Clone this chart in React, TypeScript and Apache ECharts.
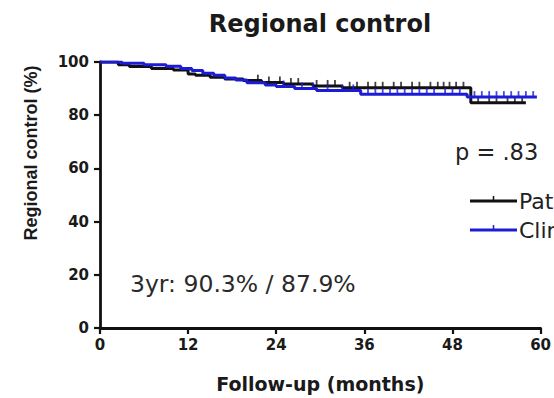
import { useEffect, useRef } from "react";
import * as echarts from "echarts";

// Kaplan-Meier steps: time (months) and percent free of regional recurrence
const pathTimes = [0, 2.5, 4, 7, 10, 12, 13, 15, 17, 19.5, 22, 25, 29, 33, 50.5, 58];
const pathSurv = [100, 99.0, 98.3, 97.6, 97.0, 95.5, 95.0, 94.3, 93.6, 93.0, 92.3, 91.7, 91.0, 90.3, 84.7, 84.7];

const clinTimes = [0, 3, 6, 9, 11, 12.5, 14, 15.5, 17, 18.5, 20, 22.5, 24, 26.5, 29.5, 35.5, 50, 59.5];
const clinSurv = [100, 99.5, 99.0, 98.4, 97.6, 96.8, 95.8, 95.0, 94.0, 93.2, 92.2, 91.4, 90.8, 90.0, 89.3, 87.9, 86.8, 86.8];

// Censored observations (months)
const pathCensor = [21.5, 23, 24.5, 26, 27, 29.5, 31, 32, 34, 35, 36.5, 37.5, 38.5, 40, 41, 42.5, 43.5, 45, 46, 46.8, 47.6, 48.5, 49.5, 51.5, 53, 54, 55.5, 56.5, 57.5];
const clinCensor = [25, 27.5, 29, 31, 33, 34.5, 36.5, 37.5, 38.5, 39.5, 40.5, 41.5, 42.5, 43.5, 44.5, 45.5, 47, 48, 49, 51, 52, 53, 54, 55, 56, 57, 58, 59];

const monthTicks = [0, 12, 24, 36, 48, 60];
const percentTicks = [0, 20, 40, 60, 80, 100];

const groupNames = ["Pathological", "Clinical"];
const pValueText = "p = .83";
const threeYearText = "3yr: 90.3% / 87.9%";

const BLACK = "#111111";
const BLUE = "#1c1cd8";

function stepPoints(times: number[], surv: number[]) {
  return times.map((t, i) => [t, surv[i]]);
}

function survAt(times: number[], surv: number[], t: number) {
  let v = surv[0];
  for (let i = 0; i < times.length; i++) {
    if (times[i] <= t) v = surv[i];
  }
  return v;
}

function censorPoints(times: number[], surv: number[], cens: number[]) {
  return cens.map((c) => [c, survAt(times, surv, c)]);
}

export default function App() {
  const ref = useRef<HTMLDivElement>(null);

  useEffect(() => {
    document.body.style.margin = "0";
    if (!ref.current) return;
    const chart = echarts.init(ref.current, undefined, { renderer: "svg" });

    const boldFont = "DejaVu Sans";
    const legendX = 470;
    const legendLen = 47;
    const legendYs = [201, 230];
    const colors = [BLACK, BLUE];

    const legendGraphics: any[] = [];
    groupNames.forEach((name, i) => {
      legendGraphics.push({
        type: "line",
        shape: { x1: legendX, y1: legendYs[i], x2: legendX + legendLen, y2: legendYs[i] },
        style: { stroke: colors[i], lineWidth: 2.8 },
      });
      legendGraphics.push({
        type: "line",
        shape: {
          x1: legendX + legendLen / 2,
          y1: legendYs[i],
          x2: legendX + legendLen / 2,
          y2: legendYs[i] - 5,
        },
        style: { stroke: colors[i], lineWidth: 1.5 },
      });
      legendGraphics.push({
        type: "text",
        x: legendX + legendLen + 2,
        y: legendYs[i],
        style: {
          text: name,
          fill: "#222",
          font: `22px "${boldFont}"`,
          textAlign: "left",
          textVerticalAlign: "middle",
        },
      });
    });

    chart.setOption({
      animation: false,
      backgroundColor: "#ffffff",
      grid: { left: 100, right: 13, top: 62, bottom: 68, containLabel: false },
      xAxis: {
        type: "value",
        min: 0,
        max: 60,
        interval: 12,
        name: "Follow-up (months)",
        nameLocation: "middle",
        nameGap: 46,
        nameTextStyle: { fontFamily: boldFont, fontWeight: "bold", fontSize: 19, color: "#1a1a1a" },
        axisLine: { show: true, lineStyle: { color: BLACK, width: 2.8 } },
        axisTick: { show: true, inside: false, length: 6, lineStyle: { color: BLACK, width: 2.2 } },
        splitLine: { show: false },
        axisLabel: {
          margin: 9,
          fontFamily: boldFont,
          fontWeight: "bold",
          fontSize: 15,
          color: "#1a1a1a",
          customValues: monthTicks,
          formatter: (v: number) => String(v),
        },
      },
      yAxis: {
        type: "value",
        min: 0,
        max: 100,
        interval: 20,
        axisLine: { show: true, lineStyle: { color: BLACK, width: 2.8 } },
        axisTick: { show: true, inside: false, length: 6, lineStyle: { color: BLACK, width: 2.2 } },
        splitLine: { show: false },
        axisLabel: {
          margin: 11,
          fontFamily: boldFont,
          fontWeight: "bold",
          fontSize: 15,
          color: "#1a1a1a",
          formatter: (v: number) => (percentTicks.includes(v) ? String(v) : ""),
        },
      },
      graphic: [
        {
          type: "text",
          x: 320,
          y: 24,
          style: {
            text: "Regional control",
            fill: "#1a1a1a",
            font: `bold 24px "${boldFont}"`,
            textAlign: "center",
            textVerticalAlign: "middle",
          },
        },
        {
          type: "text",
          x: 31,
          y: 153,
          rotation: Math.PI / 2,
          style: {
            text: "Regional control (%)",
            fill: "#1a1a1a",
            font: `bold 18px "Liberation Sans"`,
            textAlign: "center",
            textVerticalAlign: "middle",
          },
        },
        {
          type: "text",
          x: 455,
          y: 152,
          style: {
            text: pValueText,
            fill: "#222",
            font: `22.5px "${boldFont}"`,
            textAlign: "left",
            textVerticalAlign: "middle",
          },
        },
        {
          type: "text",
          x: 130,
          y: 284,
          style: {
            text: threeYearText,
            fill: "#2a2a2a",
            font: `23.5px "${boldFont}"`,
            textAlign: "left",
            textVerticalAlign: "middle",
          },
        },
        ...legendGraphics,
      ],
      series: [
        {
          name: groupNames[0],
          type: "line",
          step: "end",
          data: stepPoints(pathTimes, pathSurv),
          showSymbol: false,
          lineStyle: { color: BLACK, width: 3 },
          z: 2,
        },
        {
          name: groupNames[0] + " censored",
          type: "scatter",
          data: censorPoints(pathTimes, pathSurv, pathCensor),
          symbol: "rect",
          symbolSize: [1.8, 6],
          symbolOffset: [0, -3],
          itemStyle: { color: BLACK },
          z: 3,
        },
        {
          name: groupNames[1],
          type: "line",
          step: "end",
          data: stepPoints(clinTimes, clinSurv),
          showSymbol: false,
          lineStyle: { color: BLUE, width: 3 },
          z: 4,
        },
        {
          name: groupNames[1] + " censored",
          type: "scatter",
          data: censorPoints(clinTimes, clinSurv, clinCensor),
          symbol: "rect",
          symbolSize: [1.8, 6],
          symbolOffset: [0, -3],
          itemStyle: { color: BLUE },
          z: 5,
        },
      ],
    });

    return () => chart.dispose();
  }, []);

  return <div ref={ref} style={{ width: 554, height: 398 }} />;
}
